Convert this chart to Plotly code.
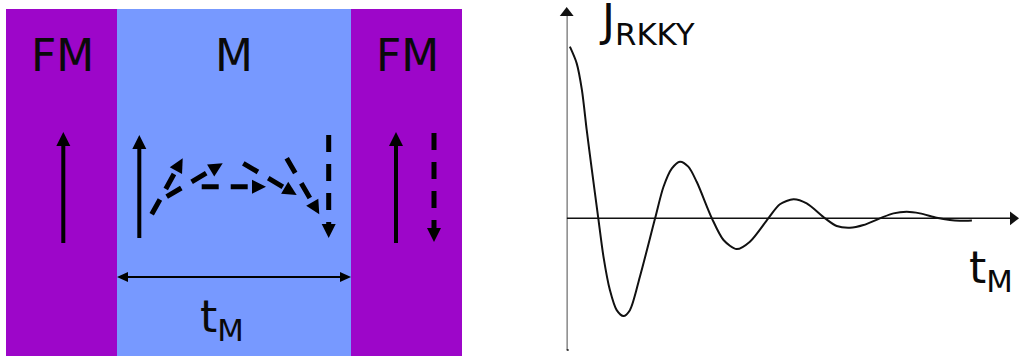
import math
import plotly.graph_objects as go

# ---------------- data ----------------
# Left panel: FM / M / FM layer stack (diagram units = pixels of the panel)
layer_names = ["FM", "M", "FM"]
layer_edges = [6, 117, 351, 462]
layer_colors = ["#9d06c9", "#7799ff", "#9d06c9"]

# Right panel: interlayer exchange coupling J_RKKY versus spacer thickness t_M
t_M = [0.08, 0.25, 0.38, 0.50, 0.63, 0.79, 0.92, 1.08, 1.25, 1.42, 1.58, 1.83,
       2.21, 2.42, 2.63, 2.83, 3.04, 3.25, 3.63, 3.92, 4.25, 4.58, 5.04, 5.33,
       5.67, 6.00, 6.46, 6.75, 7.08, 7.42, 7.83, 8.17, 8.50, 8.83, 9.25, 9.58,
       9.83, 10.13]
J_RKKY = [1.00, 0.903, 0.748, 0.515, 0.281, 0.0, -0.224, -0.418, -0.535, -0.569,
          -0.535, -0.340, 0.0, 0.184, 0.291, 0.330, 0.301, 0.213, 0.0, -0.126,
          -0.179, -0.136, 0.0, 0.082, 0.111, 0.087, 0.0, -0.045, -0.055, -0.039,
          0.0, 0.029, 0.038, 0.029, 0.003, -0.010, -0.014, -0.012]

# magnetisation arrows in the stack: (x_tail, y_tail, x_tip, y_tip, dashed)
moment_arrows = [
    (63.3, 243, 63.3, 132, False),
    (139.3, 238, 139.3, 135, False),
    (396, 243, 396, 132, False),
    (434, 133, 434, 242, True),
    (328.7, 135, 328.7, 238, True),
    (151.7, 214.3, 182.7, 158.3, True),
    (166.7, 196.7, 222.7, 163.3, True),
    (201.7, 186.7, 266.0, 186.7, True),
    (243.3, 163.3, 296.7, 195.0, True),
    (286.7, 158.3, 319.3, 214.3, True),
]

FONT = dict(family="DejaVu Sans", size=44, color="#0a0a0a")

# ---------------- figure ----------------
fig = go.Figure()
shapes = []
annotations = []
TOP, BOTTOM = 9, 356

for i, name in enumerate(layer_names):
    shapes.append(dict(type="rect", xref="x", yref="y",
                       x0=layer_edges[i], x1=layer_edges[i + 1], y0=TOP, y1=BOTTOM,
                       fillcolor=layer_colors[i], line=dict(width=0), layer="below"))
    annotations.append(dict(xref="x", yref="y",
                            x=(layer_edges[i] + layer_edges[i + 1]) / 2 + (1 if name == "FM" else 0),
                            y=55, text=name, showarrow=False, xanchor="center", yanchor="middle",
                            font=FONT))


def arrow(x0, y0, x1, y1, dashed, width=4, L=14, W=7, dash="17px,12px"):
    d = math.hypot(x1 - x0, y1 - y0)
    ux, uy = (x1 - x0) / d, (y1 - y0) / d
    bx, by = x1 - ux * L, y1 - uy * L
    px, py = -uy, ux
    shapes.append(dict(type="line", xref="x", yref="y", x0=x0, y0=y0,
                       x1=bx + ux * 1, y1=by + uy * 1,
                       line=dict(color="black", width=width,
                                 dash=dash if dashed else "solid")))
    path = "M {:.2f},{:.2f} L {:.2f},{:.2f} L {:.2f},{:.2f} Z".format(
        x1, y1, bx + px * W, by + py * W, bx - px * W, by - py * W)
    shapes.append(dict(type="path", xref="x", yref="y", path=path,
                       fillcolor="black", line=dict(color="black", width=0)))


for a in moment_arrows:
    if a[4]:
        arrow(*a, width=5)
    else:
        arrow(*a)

# thickness double arrow
mid_l, mid_r = layer_edges[1], layer_edges[2]
arrow((mid_l + mid_r) / 2, 277, mid_l, 277, False, width=2, L=11, W=5)
arrow((mid_l + mid_r) / 2, 277, mid_r, 277, False, width=2, L=11, W=5)

annotations.append(dict(xref="x", yref="y", x=222, y=319, text="t<sub>M</sub>",
                        showarrow=False, xanchor="center", yanchor="middle", font=FONT))

# ---- right panel curve
fig.add_trace(go.Scatter(x=t_M, y=J_RKKY, mode="lines", xaxis="x2", yaxis="y2",
                         line=dict(color="#111111", width=2, shape="spline", smoothing=0.8),
                         hoverinfo="skip", showlegend=False))

PX_T = 1 / 40.0                  # t units per pixel
y_lo, y_hi = -0.802, 1.272
PX_J = (y_hi - y_lo) / 356.0     # J units per pixel
x_max = (1020 - 566.7) * PX_T
y_top, y_bot = 1.231, -0.767

# axis lines
fig.add_trace(go.Scatter(x=[0, 0], y=[y_bot, y_top - 6 * PX_J], mode="lines",
                         xaxis="x2", yaxis="y2", line=dict(color="#111111", width=1.5),
                         hoverinfo="skip", showlegend=False))
fig.add_trace(go.Scatter(x=[0, x_max - 6 * PX_T], y=[0, 0], mode="lines",
                         xaxis="x2", yaxis="y2", line=dict(color="#111111", width=1.5),
                         hoverinfo="skip", showlegend=False))
# arrowheads
fig.add_trace(go.Scatter(x=[0], y=[y_top - 6 * PX_J], mode="markers", xaxis="x2", yaxis="y2",
                         marker=dict(symbol="triangle-up", size=12, color="#111111"),
                         hoverinfo="skip", showlegend=False, cliponaxis=False))
fig.add_trace(go.Scatter(x=[x_max - 7 * PX_T], y=[0], mode="markers", xaxis="x2", yaxis="y2",
                         marker=dict(symbol="triangle-right", size=12, color="#111111"),
                         hoverinfo="skip", showlegend=False, cliponaxis=False))
# little foot at the bottom of the vertical axis
fig.add_trace(go.Scatter(x=[-2 * PX_T, 2 * PX_T], y=[y_bot, y_bot], mode="lines",
                         xaxis="x2", yaxis="y2", line=dict(color="#111111", width=1.5),
                         hoverinfo="skip", showlegend=False, cliponaxis=False))

annotations.append(dict(xref="x2", yref="y2", x=0.75, y=y_hi - 2 * PX_J, yshift=9,
                        text="J<sub>RKKY</sub>",
                        showarrow=False, xanchor="left", yanchor="top", font=FONT))
annotations.append(dict(xref="x2", yref="y2", x=10.0, y=-0.2 + 13 * PX_J, text="t<sub>M</sub>",
                        showarrow=False, xanchor="left", yanchor="top", font=FONT))

fig.update_layout(
    width=1020, height=356, margin=dict(l=0, r=0, t=0, b=0),
    paper_bgcolor="white", plot_bgcolor="rgba(0,0,0,0)",
    showlegend=False,
    xaxis=dict(domain=[0, 470 / 1020], range=[0, 470], visible=False, fixedrange=True),
    yaxis=dict(domain=[0, 1], range=[356, 0], visible=False, fixedrange=True),
    xaxis2=dict(domain=[566.7 / 1020, 1], range=[0, x_max], visible=False, anchor="y2"),
    yaxis2=dict(domain=[0, 1], range=[y_lo, y_hi], visible=False, anchor="x2"),
    shapes=shapes, annotations=annotations,
)
fig.add_trace(go.Scatter(x=[0, 470], y=[0, 356], mode="markers", marker=dict(opacity=0),
                         hoverinfo="skip", showlegend=False))

fig.write_html("out.html", config={"displayModeBar": False},
               post_script="document.body.style.margin='0px';")
